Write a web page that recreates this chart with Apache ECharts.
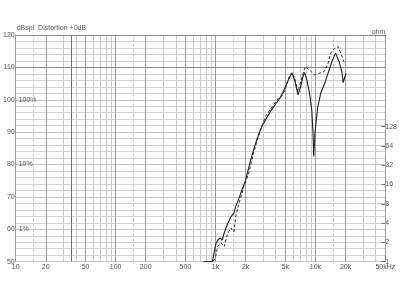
<!DOCTYPE html>
<html><head><meta charset="utf-8">
<script src="https://cdn.jsdelivr.net/npm/echarts@6/dist/echarts.min.js"></script>
<style>html,body{margin:0;padding:0;background:#fff}#c{width:400px;height:300px}</style>
</head><body><div id="c"></div><script>
const freqSolid = [760,930,1000,1050,1110,1170,1220,1310,1420,1530,1590,1720,1840,2000,2250,2580,2890,3240,3630,4060,4420,4760,5090,5540,5830,6200,6680,7110,7480,7780,8200,8710,9180,9450,9600,9890,10500,11300,12400,13700,14800,15900,17200,18500,18900,19700,20300];
const splSolid = [50,50,55.2,56.7,57.3,56.7,58.9,61.4,63.8,65.1,67.0,69.7,72.2,75.2,81.5,87.6,91.7,94.4,96.9,99.0,100.6,102.5,104.6,107.1,108.2,106.1,101.5,104.0,107.1,108.4,106.1,102.1,96.9,89.7,82.5,89.8,97.5,102.1,105.2,109.2,112.3,114.4,111.8,108.2,105.3,107.1,108.2];
const freqDashed = [760,930,995,1045,1135,1220,1310,1420,1530,1590,1720,1920,2150,2310,2580,2830,3150,3800,4250,4580,4950,5540,5830,6200,6680,7200,7890,8710,9750,10900,12200,13200,14200,15500,16900,18200,19200,19950];
const splDashed = [50,50,51,54.6,55.8,54.6,58.3,60.4,59.2,63.9,68.1,73.1,77.4,81.4,87.0,90.7,94.8,98.4,100.5,101.0,103.0,107.7,108.4,106.6,102.5,106.1,110.2,109.2,107.7,108.2,108.7,110.7,114.4,115.9,116.4,113.8,111.8,111.3];

const xTickValues = [10,20,50,100,200,500,1000,2000,5000,10000,20000,50000];
const xTickLabels = ['10','20','50','100','200','500','1k','2k','5k','10k','20k','50kHz'];
const minorFreqs = [30,40,60,70,80,90,300,400,600,700,800,900,3000,4000,6000,7000,8000,9000,30000,40000];
const dashedFreqs = [15,150,1500,15000];
const markerFreq = 36;
const splMin = 50, splMax = 120, splStep = 10;
const refLevel = 110;
const distValues = [100,80,60];
const distLabels = ['100%','10%','1%'];
const ohmTicks = [1,2,4,8,16,32,64,128];
const ohmTop = 3444;

const chart = echarts.init(document.getElementById('c'), null, {renderer:'canvas'});
const font = 'Liberation Sans, Arial, sans-serif';
const txt = '#555';

const majorLines = xTickValues.map((v,i)=>({xAxis:v, label:{show:true, formatter:xTickLabels[i]}}));
chart.setOption({
  animation:false,
  backgroundColor:'#fff',
  grid:{left:12.7, right:11, top:35, bottom:38.3, containLabel:false},
  xAxis:{type:'log', logBase:10, min:10, max:50000,
    axisLine:{show:false}, axisTick:{show:false}, axisLabel:{show:false}, splitLine:{show:false}},
  yAxis:[
    {type:'value', min:splMin, max:splMax, interval:splStep, position:'left',
      name:'dBspl  Distortion +0dB', nameLocation:'end', nameGap:0,
      nameTextStyle:{align:'left', fontSize:7, color:txt, fontFamily:font, padding:[0,0,-1,1]},
      axisLine:{show:true, lineStyle:{color:'#888'}}, axisTick:{show:false},
      axisLabel:{fontSize:7, color:txt, fontFamily:font, margin:1},
      splitLine:{show:true, lineStyle:{color:'#c4c4c4', width:1}},
      minorTick:{show:false, splitNumber:5},
      minorSplitLine:{show:true, lineStyle:{color:'#d2d2d2', width:1}}},
    {type:'value', min:0, max:Math.log2(ohmTop), position:'right',
      name:'ohm', nameLocation:'end', nameGap:0,
      nameTextStyle:{align:'right', fontSize:7, color:txt, fontFamily:font, padding:[0,0,-1,0]},
      axisLine:{show:true, lineStyle:{color:'#999'}},
      axisTick:{show:true, inside:true, length:4, lineStyle:{color:'#777'}, customValues:ohmTicks.map(v=>Math.log2(v))},
      axisLabel:{fontSize:7, color:txt, fontFamily:font, margin:0, customValues:ohmTicks.map(v=>Math.log2(v)),
        formatter:v=>String(Math.round(Math.pow(2,v)))},
      splitLine:{show:false}},
    {type:'value', min:splMin, max:splMax, interval:splStep, position:'left',
      axisLine:{show:false}, axisTick:{show:false}, splitLine:{show:false},
      axisLabel:{inside:true, margin:3, fontSize:7, color:txt, fontFamily:font,
        formatter:v=>{const i=distValues.indexOf(v); return i>=0?distLabels[i]:'';}}}
  ],
  series:[
    {type:'line', data:[], silent:true, z:1,
      markLine:{silent:true, symbol:'none', animation:false,
        lineStyle:{color:'#cbcbcb', width:1, type:'solid'},
        label:{show:false},
        data:minorFreqs.map(v=>({xAxis:v}))}},
    {type:'line', data:[], silent:true, z:1,
      markLine:{silent:true, symbol:'none', animation:false,
        lineStyle:{color:'#cbcbcb', width:1, type:[3,2]},
        label:{show:false},
        data:dashedFreqs.map(v=>({xAxis:v}))}},
    {type:'line', data:[], silent:true, z:2,
      markLine:{silent:true, symbol:'none', animation:false,
        lineStyle:{color:'#9c9c9c', width:1, type:'solid'},
        label:{show:true, position:'start', distance:2, fontSize:7, color:txt, fontFamily:font},
        data:majorLines}},
    {type:'line', data:[], silent:true, z:2,
      markLine:{silent:true, symbol:'none', animation:false,
        lineStyle:{color:'#888', width:1.2, type:'solid'},
        label:{show:false},
        data:[{yAxis:refLevel},{yAxis:splMax}]}},
    {type:'line', data:[], silent:true, z:3,
      markLine:{silent:true, symbol:'none', animation:false,
        lineStyle:{color:'#d04a4a', width:1, type:'solid'},
        label:{show:false},
        data:[{xAxis:markerFreq}]}},
    {type:'line', name:'dashed', data:freqDashed.map((f,i)=>[f,splDashed[i]]), showSymbol:false, z:5,
      lineStyle:{color:'#333', width:1, type:[3,2]}},
    {type:'line', name:'solid', data:freqSolid.map((f,i)=>[f,splSolid[i]]), showSymbol:false, z:6,
      lineStyle:{color:'#222', width:1.1}}
  ]
});
</script></body></html>
